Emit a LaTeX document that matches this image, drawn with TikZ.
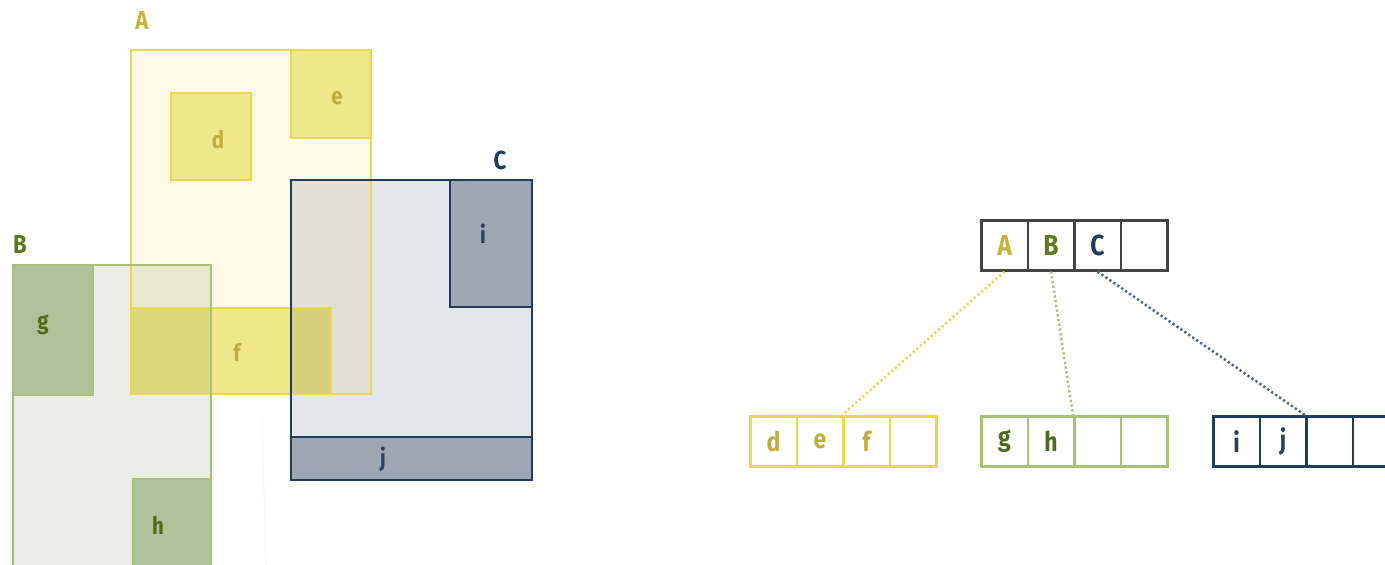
\documentclass[tikz,border=0pt]{standalone}
\usepackage{fontspec}
\setmainfont{Fira Sans}[FakeStretch=0.85]
\definecolor{yelS}{HTML}{EBD84F}
\definecolor{yelF}{HTML}{FCF9E6}
\definecolor{yelD}{HTML}{F3EC99}
\definecolor{yelT}{HTML}{BFAE3F}
\definecolor{yelL}{HTML}{C6B43A}
\definecolor{grnS}{HTML}{A6C275}
\definecolor{grnF}{HTML}{ECEEE5}
\definecolor{grnD}{HTML}{BFD0AB}
\definecolor{grnT}{HTML}{4D6B1B}
\definecolor{grnL}{HTML}{5E7A1F}
\definecolor{navS}{HTML}{1F3B5E}
\definecolor{navF}{HTML}{E4E6EA}
\definecolor{navD}{HTML}{B0B9C4}
\definecolor{navT}{HTML}{2B3F5A}
\definecolor{rootS}{HTML}{444444}
\begin{document}
\begin{tikzpicture}[x=1pt,y=-1pt,
  mfill/.style={blend mode=multiply},
  yedge/.style={draw=yelS, line width=2pt},
  gedge/.style={draw=grnS, line width=2pt},
  nedge/.style={draw=navS, line width=2.8pt},
  lbl/.style={font=\fontsize{26}{26}\selectfont\bfseries, inner sep=0pt},
  inl/.style={font=\fontsize{24}{24}\selectfont\bfseries, inner sep=0pt},
  cell/.style={draw, line width=2.6pt, minimum width=46.5pt, minimum height=50pt, inner sep=0pt, anchor=north west},
  rcell/.style={cell, draw=rootS, font=\fontsize{29}{29}\selectfont\bfseries},
  ccell/.style={cell, font=\fontsize{27}{27}\selectfont\bfseries},
  link/.style={line width=2.5pt, dash pattern=on 2.2pt off 2.6pt}
]
\useasboundingbox (0,0) rectangle (1385,565);
\fill[white] (0,0) rectangle (1385,565);
% ---- left plan: fills ----
\begin{scope}[transparency group]
\fill[mfill, yelF] (131,50) rectangle (371,394);
\fill[mfill, yelD] (171,93) rectangle (251,180);
\fill[mfill, yelD] (291,50) rectangle (371,138);
\fill[mfill, grnF] (13,265) rectangle (211,570);
\fill[mfill, grnD] (13,265) rectangle (93,395);
\fill[mfill, grnD] (133,479) rectangle (211,570);
\fill[mfill, navF] (291,180) rectangle (532,480);
\fill[mfill, navD] (450,180) rectangle (532,307);
\fill[mfill, navD] (291,437) rectangle (532,480);
\fill[mfill, yelD] (131,308) rectangle (331,394);
\end{scope}
% ---- left plan: edges ----
\draw[yedge] (131,50) rectangle (371,394);
\draw[yedge] (171,93) rectangle (251,180);
\draw[yedge] (291,50) rectangle (371,138);
\draw[yedge] (131,308) rectangle (331,394);
\draw[gedge] (13,265) rectangle (211,570);
\draw[gedge] (13,265) rectangle (93,395);
\draw[gedge] (133,479) rectangle (211,570);
\draw[nedge] (291,180) rectangle (532,480);
\draw[nedge] (450,180) rectangle (532,307);
\draw[nedge] (291,437) rectangle (532,480);
\draw[gray!12, line width=1.2pt, dotted] (262,420) -- (266,565);
\node[lbl, text=yelL] (labA) at (142,20) {A};
\node[lbl, text=grnL] (labB) at (20,244) {B};
\node[lbl, text=navS] (labC) at (500,160) {C};
\node[inl, text=yelT] (ld) at (218,140) {d};
\node[inl, text=yelT] (le) at (337,98) {e};
\node[inl, text=yelT] (lf) at (237,352) {f};
\node[inl, text=grnT] (lg) at (43,325) {g};
\node[inl, text=grnT] (lh) at (158,525) {h};
\node[inl, text=navT] (li) at (483,234) {i};
\node[inl, text=navT] (lj) at (383,459) {j};
% ---- right tree ----
\node[rcell, text=yelL] (rA) at (980,219) {A};
\node[rcell, text=grnL] (rB) at (1026.5,219) {B};
\node[rcell, text=navS] (rC) at (1073,219) {C};
\node[rcell] (rD) at (1119.5,219) {};
\node[ccell, draw=yelS, text=yelT] (cd) at (749,415) {d};
\node[ccell, draw=yelS, text=yelT] (ce) at (795.5,415) {e};
\node[ccell, draw=yelS, text=yelT] (cf) at (842,415) {f};
\node[ccell, draw=yelS] (cx) at (888.5,415) {};
\node[ccell, draw=grnS, text=grnT] (cg) at (980,415) {g};
\node[ccell, draw=grnS, text=grnT] (ch) at (1026.5,415) {h};
\node[ccell, draw=grnS] (cy1) at (1073,415) {};
\node[ccell, draw=grnS] (cy2) at (1119.5,415) {};
\node[ccell, draw=navS, text=navT] (ci) at (1212,415) {i};
\node[ccell, draw=navS, text=navT] (cj) at (1258.5,415) {j};
\node[ccell, draw=navS] (cz1) at (1305,415) {};
\node[ccell, draw=navS] (cz2) at (1351.5,415) {};
\draw[link, draw=yelS] (rA.south) -- (cf.north west);
\draw[link, draw=grnS] (rB.south) -- (cy1.north west);
\draw[link, draw=navS!80] (rC.south) -- (cz1.north west);
\end{tikzpicture}
\end{document}
